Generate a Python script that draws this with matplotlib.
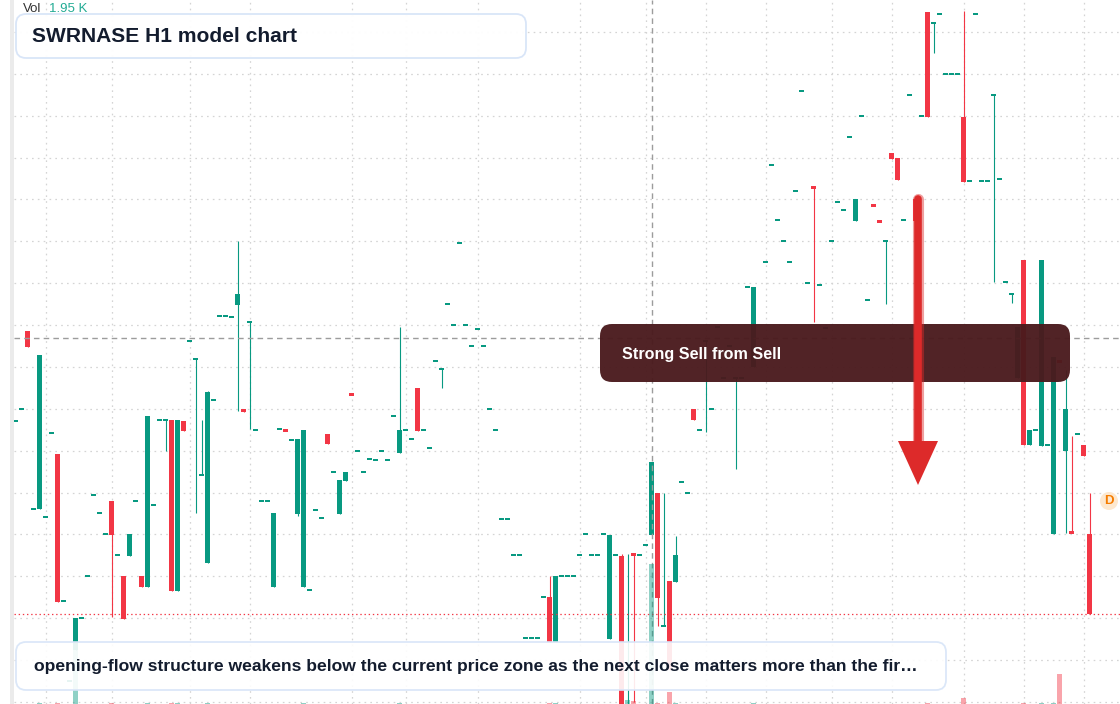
import numpy as np
import matplotlib
matplotlib.use("Agg")
import matplotlib.pyplot as plt
from matplotlib.patches import FancyBboxPatch, Circle, Polygon

plt.rcParams['font.family'] = ['Liberation Sans', 'DejaVu Sans']
plt.rcParams['lines.scale_dashes'] = False

# candle data (H1 bars, price units)
opens = [
    28.3, 29.5, 37.3, 19.5, 19.5, 18.7, 27.1, 25.0, 10.3, 2.3,
    5.4, 8.6, 12.8, 20.9, 19.1, 17.0, 20.3, 14.9, 12.8, 14.8,
    20.3, 12.8, 11.7, 19.9, 28.4, 28.4, 28.4, 11.3, 28.3, 36.3,
    34.5, 22.9, 14.1, 30.4, 38.8, 38.8, 38.7, 39.9, 29.5, 38.2,
    27.4, 20.3, 20.3, 11.7, 27.5, 27.4, 26.4, 19.0, 11.7, 11.4,
    19.4, 18.6, 27.0, 23.2, 19.0, 22.3, 31.0, 25.3, 23.2, 24.5,
    24.4, 25.3, 24.4, 28.8, 25.1, 27.4, 26.5, 31.6, 27.4, 25.6,
    34.3, 33.5, 40.0, 37.9, 46.1, 37.9, 35.8, 37.5, 35.8, 29.5,
    27.4, 18.5, 18.5, 14.9, 14.9, 6.6, 6.6, 6.6, 10.7, 10.7,
    6.2, 12.8, 12.8, 12.8, 14.9, 17.0, 14.9, 14.9, 17.0, 6.5,
    14.9, 14.8, -2.0, 15.0, 14.9, 15.9, 16.9, 21.1, 7.8, 12.3,
    12.2, 22.2, 21.1, 29.5, 27.4, 36.3, 29.5, 37.7, 32.6, 35.8,
    32.6, 32.6, 41.7, 33.7, np.nan, 44.2, 53.9, 48.4, 46.3, 44.2,
    51.3, 61.3, 42.1, 51.7, 41.9, 37.6, 46.3, 50.2, 49.4, 56.7,
    48.3, 58.8, 40.4, 49.9, 48.3, 46.3, 55.1, 54.6, 48.4, 60.9,
    50.5, 58.8, 69.2, 68.1, 69.0, 63.0, 63.0, 63.0, 58.7, 52.3,
    69.0, 52.3, 52.3, 60.9, 52.5, 42.2, 41.0, 32.6, 44.4, 25.9,
    27.4, 25.8, 25.9, 17.0, 34.3, 25.3, 17.2, 27.0, 25.9, 17.0,
]
highs = [
    28.3, 29.5, 37.3, 19.5, 34.9, 18.7, 27.1, 25.0, 10.3, 2.3,
    8.6, 8.6, 12.8, 20.9, 19.1, 17.0, 20.3, 14.9, 12.8, 17.0,
    20.3, 12.8, 28.8, 19.9, 28.4, 28.4, 28.4, 28.4, 28.3, 36.3,
    34.5, 28.4, 31.3, 30.4, 38.8, 38.8, 38.7, 46.3, 29.5, 38.2,
    27.4, 20.3, 20.3, 19.1, 27.5, 27.4, 26.4, 26.5, 27.4, 11.4,
    19.4, 18.6, 27.0, 23.2, 22.4, 23.2, 31.0, 25.3, 23.2, 24.5,
    24.4, 25.3, 24.4, 28.8, 37.7, 27.4, 26.5, 31.6, 27.4, 25.6,
    34.3, 33.5, 40.0, 37.9, 46.1, 37.9, 35.8, 37.5, 35.8, 29.5,
    27.4, 18.5, 18.5, 14.9, 14.9, 6.6, 6.6, 6.6, 10.7, 12.8,
    12.8, 12.8, 12.8, 12.8, 14.9, 17.0, 14.9, 14.9, 17.0, 16.9,
    14.9, 15.0, 15.0, 15.0, 14.9, 15.9, 24.2, 21.1, 21.1, 12.3,
    16.8, 22.2, 21.1, 29.5, 27.4, 36.3, 29.5, 37.7, 32.6, 35.8,
    32.6, 32.6, 41.7, 41.7, np.nan, 44.2, 53.9, 48.4, 46.3, 44.2,
    51.3, 61.3, 42.1, 51.7, 41.9, 37.6, 46.3, 50.2, 49.4, 56.7,
    50.5, 58.8, 40.4, 49.9, 48.3, 46.3, 55.1, 54.6, 48.4, 60.9,
    50.5, 58.8, 69.2, 68.1, 69.0, 63.0, 63.0, 63.0, 69.3, 52.3,
    69.0, 52.3, 52.3, 60.9, 52.5, 42.2, 41.0, 37.7, 44.4, 27.4,
    27.4, 44.4, 25.9, 34.7, 34.3, 33.4, 26.8, 27.0, 25.9, 21.1,
]
lows = [
    28.3, 29.5, 35.7, 19.5, 19.5, 18.7, 27.1, 10.2, 10.3, 2.3,
    5.4, 8.6, 12.8, 20.9, 19.1, 17.0, 8.7, 14.9, 8.5, 14.8,
    20.3, 11.7, 11.7, 19.9, 28.4, 25.3, 11.3, 11.3, 27.3, 36.3,
    19.1, 22.9, 14.1, 30.4, 38.8, 38.8, 38.7, 29.3, 29.2, 27.5,
    27.4, 20.3, 20.3, 11.7, 27.5, 27.3, 26.4, 18.8, 11.7, 11.4,
    19.4, 18.6, 26.0, 23.2, 19.0, 22.3, 30.9, 25.3, 23.2, 24.5,
    24.4, 25.3, 24.4, 28.8, 25.1, 27.4, 26.5, 27.3, 27.4, 25.6,
    34.3, 31.6, 40.0, 37.9, 46.1, 37.9, 35.8, 37.5, 35.8, 29.5,
    27.4, 18.5, 18.5, 14.9, 14.9, 6.6, 6.6, 6.6, 10.7, 6.2,
    6.2, 12.8, 12.8, 12.8, 14.9, 17.0, 14.9, 14.9, 17.0, 6.5,
    14.9, -2.6, -3.0, 0.2, 14.9, 15.9, 16.9, 7.8, 7.8, 3.4,
    12.2, 22.2, 21.1, 28.4, 27.4, 27.2, 29.5, 37.7, 32.6, 35.8,
    23.5, 32.6, 41.7, 33.7, np.nan, 44.2, 53.9, 48.4, 46.3, 44.2,
    51.3, 61.3, 42.1, 38.2, 41.9, 37.6, 46.3, 50.2, 49.4, 56.7,
    48.3, 58.8, 40.4, 49.8, 48.2, 40.0, 54.5, 52.4, 48.4, 60.9,
    48.3, 58.8, 58.7, 65.1, 69.0, 63.0, 63.0, 63.0, 52.2, 52.3,
    69.0, 52.3, 52.3, 42.2, 52.5, 42.2, 40.1, 32.6, 25.9, 25.9,
    27.4, 25.8, 25.9, 17.0, 34.2, 17.1, 17.1, 27.0, 24.8, 9.0,
]
closes = [
    28.3, 29.5, 35.7, 19.5, 34.9, 18.7, 27.1, 10.2, 10.3, 2.3,
    8.6, 8.6, 12.8, 20.9, 19.1, 17.0, 16.9, 14.9, 8.5, 17.0,
    20.3, 11.7, 28.8, 19.9, 28.4, 28.4, 11.3, 28.4, 27.3, 36.3,
    34.5, 22.9, 31.2, 30.4, 38.8, 38.8, 38.7, 41.0, 29.2, 38.2,
    27.4, 20.3, 20.3, 19.1, 27.5, 27.3, 26.4, 26.5, 27.4, 11.4,
    19.4, 18.6, 26.0, 23.2, 22.4, 23.2, 30.9, 25.3, 23.2, 24.5,
    24.4, 25.3, 24.4, 28.8, 27.4, 27.4, 26.5, 27.3, 27.4, 25.6,
    34.3, 33.5, 40.0, 37.9, 46.1, 37.9, 35.8, 37.5, 35.8, 29.5,
    27.4, 18.5, 18.5, 14.9, 14.9, 6.6, 6.6, 6.6, 10.7, 6.2,
    12.8, 12.8, 12.8, 12.8, 14.9, 17.0, 14.9, 14.9, 17.0, 16.9,
    14.9, -2.6, -2.0, 14.9, 14.9, 15.9, 24.2, 10.6, 7.8, 3.4,
    14.9, 22.2, 21.1, 28.4, 27.4, 36.3, 29.5, 37.7, 32.6, 35.8,
    32.6, 32.6, 41.7, 41.7, np.nan, 44.2, 53.9, 48.4, 46.3, 44.2,
    51.3, 61.3, 42.1, 51.6, 41.9, 37.6, 46.3, 50.2, 49.4, 56.7,
    50.5, 58.8, 40.4, 49.8, 48.2, 46.3, 54.5, 52.4, 48.4, 60.9,
    48.3, 58.8, 58.7, 68.1, 69.0, 63.0, 63.0, 63.0, 52.2, 52.3,
    69.0, 52.3, 52.3, 60.9, 52.5, 42.2, 41.0, 37.7, 25.9, 27.4,
    27.4, 44.4, 25.9, 34.7, 34.2, 29.5, 17.1, 27.0, 24.8, 9.0,
]
# volume in thousands
volumes = [
    1.4, 1.1, 2.0, 1.3, 2.4, 0.9, 1.2, 2.2, 1.0, 1.1,
    252.0, 1.0, 1.3, 0.8, 1.1, 1.2, 2.3, 0.9, 2.1, 1.6,
    1.0, 1.4, 2.6, 0.9, 1.0, 1.3, 2.5, 2.4, 1.2, 0.9,
    1.5, 1.2, 2.3, 0.8, 1.0, 0.9, 1.1, 2.0, 1.2, 1.4,
    0.8, 1.0, 0.9, 2.1, 1.0, 1.1, 0.9, 1.8, 2.4, 1.0,
    0.9, 1.1, 1.3, 0.8, 1.5, 1.2, 1.0, 0.9, 1.0, 0.8,
    1.1, 0.9, 1.0, 1.2, 2.2, 0.9, 1.0, 1.9, 1.0, 1.1,
    1.0, 1.3, 0.9, 1.0, 1.2, 0.8, 1.1, 1.0, 0.9, 1.2,
    1.0, 0.9, 1.1, 1.0, 0.8, 1.2, 0.9, 1.0, 1.1, 2.5,
    2.2, 1.0, 0.9, 1.1, 1.0, 1.2, 0.9, 1.0, 1.1, 2.0,
    1.0, 80.0, 18.0, 12.0, 1.1, 1.3, 600.0, 2.2, 2.0, 50.0,
    2.4, 1.0, 1.1, 1.6, 0.9, 1.5, 1.0, 0.9, 1.0, 1.1,
    1.4, 0.9, 1.0, 2.6, np.nan, 1.0, 1.1, 0.9, 1.0, 1.2,
    0.9, 1.0, 1.1, 1.5, 0.9, 1.0, 1.1, 0.9, 1.0, 1.0,
    1.3, 0.9, 1.0, 1.1, 1.0, 1.4, 1.2, 1.6, 0.9, 1.0,
    1.3, 0.9, 2.4, 1.2, 1.0, 0.9, 1.0, 1.1, 26.0, 1.0,
    0.9, 1.0, 1.1, 1.6, 1.0, 0.9, 1.1, 2.0, 2.4, 1.2,
    0.9, 2.3, 1.0, 2.5, 128.0, 2.1, 1.4, 0.9, 1.2, 1.95,
]

# time-boundary bars used for the vertical grid
time_ticks = [5, 16, 29, 39, 56, 65, 77, 94, 105, 115, 125, 136, 146, 158, 168, 178]
crosshair_bar = 106
crosshair_price = 36.6

title = "SWRNASE H1 model chart"
signal_text = "Strong Sell from Sell"
note_text = ("opening-flow structure weakens below the current price zone as the "
             "next close matters more than the fir\u2026")

GREEN = '#089981'
RED = '#f23645'

o = np.array(opens)
h = np.array(highs)
l = np.array(lows)
c = np.array(closes)
v = np.array(volumes)
x = np.arange(len(o))
ok = ~np.isnan(o)
up = c >= o
cols = np.where(up, GREEN, RED)

W, H = 1120, 704
fig = plt.figure(figsize=(W / 100, H / 100), dpi=100)
fig.patch.set_facecolor('white')

# left price-scale strip
fig.patches.append(plt.Rectangle((10 / W, 0), 4 / W, 1, transform=fig.transFigure,
                                 facecolor='#ebebeb', edgecolor='none'))

ax = fig.add_axes([14 / W, 0, (W - 14) / W, 1])
ax.set_xlim(-0.25, 184.08)
ax.set_ylim(0, 70.4)
for s in ax.spines.values():
    s.set_visible(False)
ax.set_xticks(time_ticks)
ax.set_yticks(67.2 - 4.187 * np.arange(17))
ax.tick_params(length=0, labelbottom=False, labelleft=False)
ax.grid(True, color='#d4d4d4', linewidth=0.9, linestyle=(0, (1.2, 3.0)))
ax.set_axisbelow(True)

# volume pane at the bottom (largest bar ~140 px tall)
axv = ax.twinx()
axv.set_ylim(0, np.nanmax(v) * H / 140)
axv.axis('off')
vcols = np.where(up, GREEN, RED)
axv.bar(x[ok], v[ok], width=0.85, color=vcols[ok], alpha=0.45, linewidth=0,
        antialiased=False)

# candles
ax.vlines(x[ok], l[ok], h[ok], colors=cols[ok], linewidth=0.8, zorder=2)
mid = (o + c) / 2
bh = np.maximum(np.abs(c - o), 0.22)
ax.bar(x[ok], bh[ok], bottom=(mid - bh / 2)[ok], width=0.85, color=cols[ok],
       linewidth=0, zorder=3)

# crosshair and last price line
ax.axhline(crosshair_price, color='#9c9c9c', linewidth=1.0, linestyle=(0, (4, 3)), zorder=4)
ax.axvline(crosshair_bar, color='#9c9c9c', linewidth=1.0, linestyle=(0, (4, 3)), zorder=4)
ax.axhline(closes[-1], color=RED, linewidth=0.9, linestyle=(0, (1, 2)), zorder=4)

# overlay in pixel coordinates
ov = fig.add_axes([0, 0, 1, 1])
ov.set_xlim(0, W)
ov.set_ylim(H, 0)
ov.axis('off')
ov.patch.set_alpha(0)

# vol label
ov.text(23, 9, "Vol", fontsize=9.5, color='#333333', va='center', ha='left')
ov.text(49, 9, f"{volumes[-1]:.2f} K", fontsize=9.5, color='#22ab94', va='center', ha='left')

# title box
ov.add_patch(FancyBboxPatch((16, 14), 510, 44, boxstyle="round,pad=0,rounding_size=10",
                            facecolor='white', edgecolor='#d8e5f8', linewidth=1.3, alpha=0.97))
ov.text(32, 36, title, fontsize=15.1, fontweight='bold', color='#131c2e', va='center', ha='left')

# bottom note box
ov.add_patch(FancyBboxPatch((16, 642), 930, 48, boxstyle="round,pad=0,rounding_size=10",
                            facecolor='white', edgecolor='#d8e5f8', linewidth=1.3, alpha=0.9))
ov.text(34, 667, note_text, fontsize=12.6, fontweight='bold', color='#131c2e',
        va='center', ha='left')

# signal box
ov.add_patch(FancyBboxPatch((600, 324), 470, 58, boxstyle="round,pad=0,rounding_size=12",
                            facecolor='#4a1a1d', edgecolor='none', alpha=0.96))
ov.text(622, 354, signal_text, fontsize=11.6, fontweight='bold', color='white',
        va='center', ha='left')

# sell arrow
ov.plot([918, 918], [199, 445], color='#dd2a2a', linewidth=8, alpha=0.45,
        solid_capstyle='round')
ov.plot([918, 918], [199, 445], color='#dd2a2a', linewidth=5.5, solid_capstyle='round')
ov.add_patch(Polygon([(898, 441), (938, 441), (918, 485)], closed=True,
                     facecolor='#dd2a2a', edgecolor='none'))

# D marker
ov.add_patch(Circle((1109, 501), 9, facecolor='#fde8cf', edgecolor='none'))
ov.text(1109, 501.5, "D", fontsize=9.5, fontweight='bold', color='#f57c00',
        va='center', ha='center')

fig.savefig('out.png', dpi=100)
